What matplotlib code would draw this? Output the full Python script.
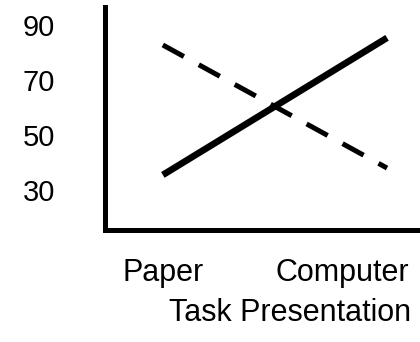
import matplotlib
matplotlib.use("Agg")
import matplotlib.pyplot as plt

conditions = ["Paper", "Computer"]
cond_pos = [0.0, 1.0]
label_pos = [0.0, 0.8]
solid_vals = [35.5, 85.3]
dashed_vals = [82.7, 38.0]
yticks = [30, 50, 70, 90]

plt.rcParams['font.family'] = ['Liberation Sans', 'DejaVu Sans']

fig = plt.figure(figsize=(4.2, 3.42), dpi=100)
ax = fig.add_axes([105/420, 1 - 230/342, (420-105)/420, (230-7)/342])

ax.plot(cond_pos, solid_vals, color='black', lw=4.8, solid_capstyle='butt')
ax.plot(cond_pos, dashed_vals, color='black', lw=3.6, dashes=(4.8, 3.4), dash_capstyle='butt')

ax.set_xlim(-0.258, 1.147)
ax.set_ylim(15.5, 96.5)
ax.set_yticks(yticks)
ax.set_yticklabels([str(v) for v in yticks], fontsize=21)
ax.set_xticks(label_pos)
ax.set_xticklabels(conditions, fontsize=22)
ax.tick_params(axis='y', length=0, pad=36)
ax.tick_params(axis='x', length=0, pad=20)
ax.set_xlabel("Task Presentation", fontsize=22, va='top')
ax.xaxis.set_label_coords((290-105)/315, -(298-230)/223)

for s in ['top', 'right']:
    ax.spines[s].set_visible(False)
for s in ['left', 'bottom']:
    ax.spines[s].set_linewidth(3.6)

fig.savefig("out.png", dpi=100)
